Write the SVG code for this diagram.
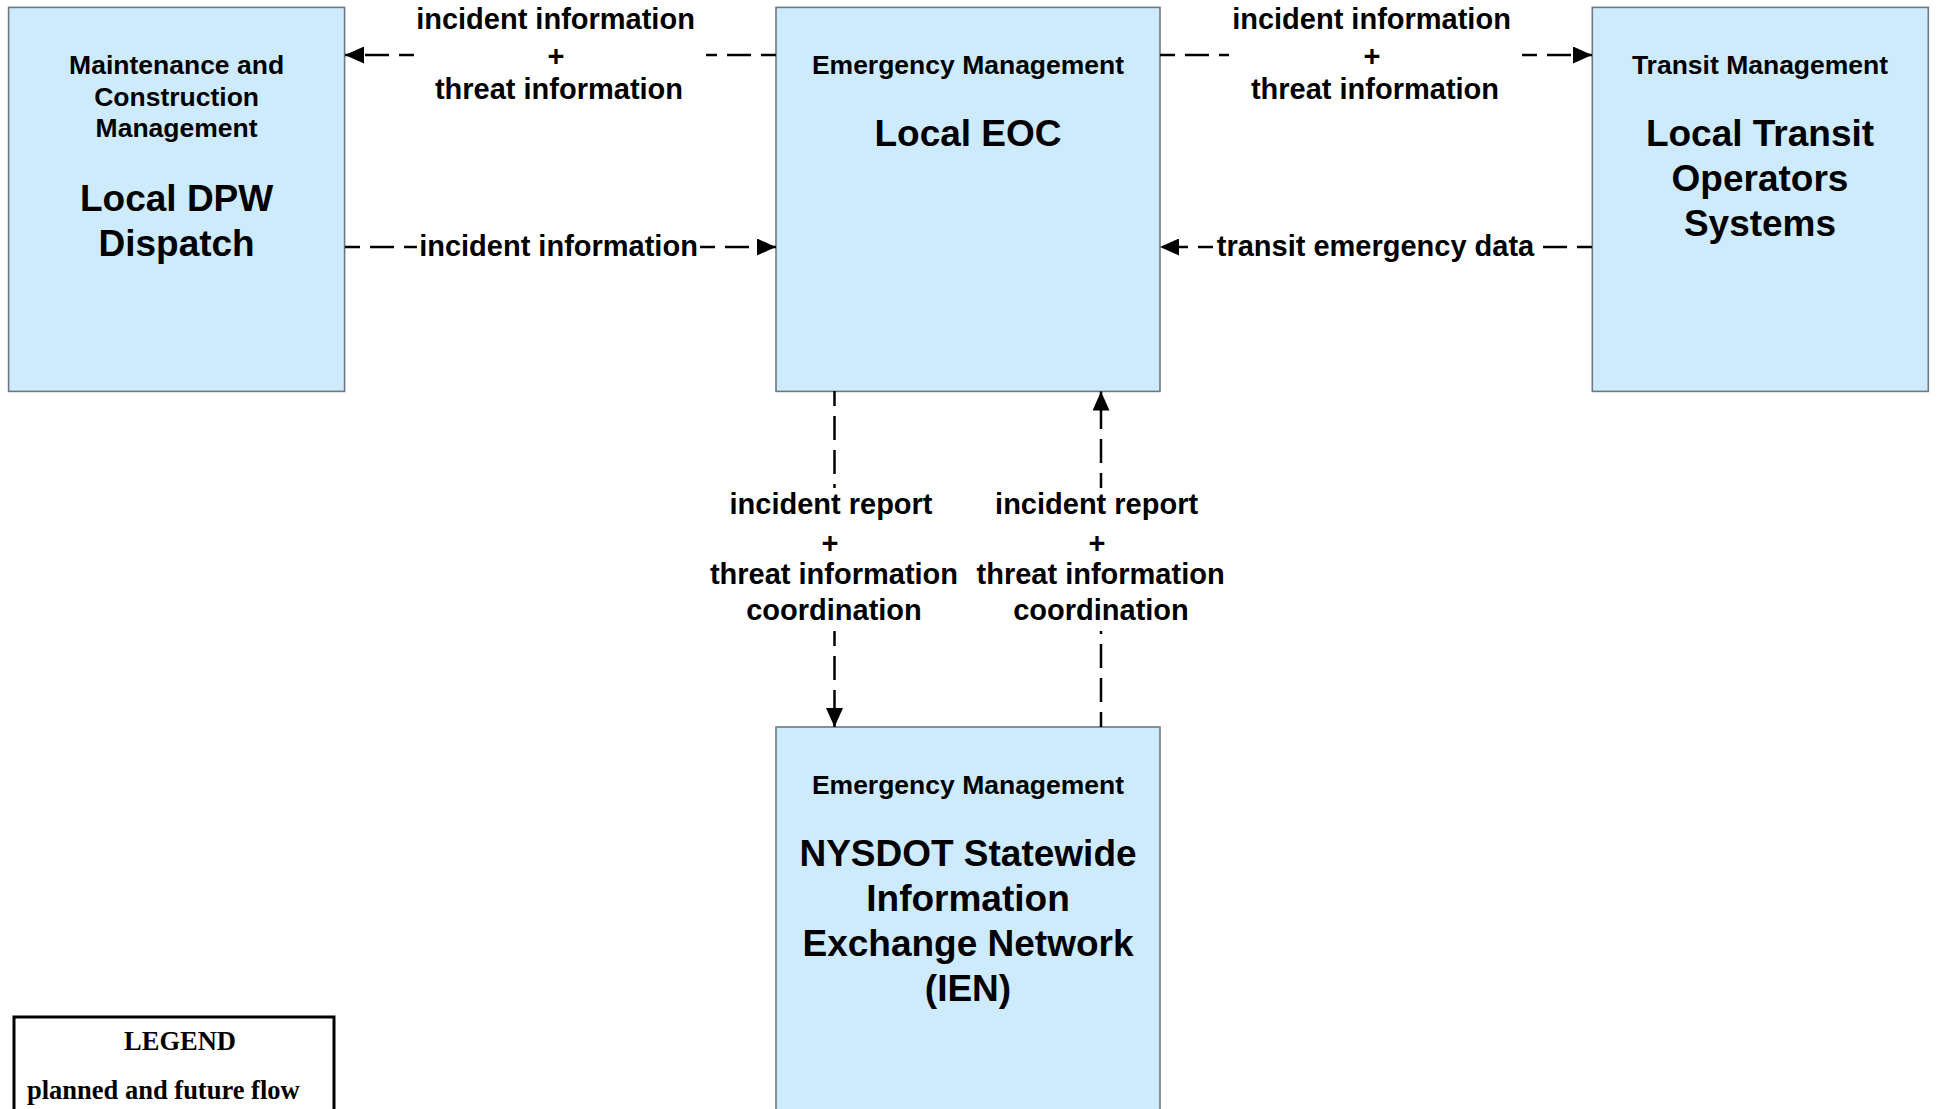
<svg xmlns="http://www.w3.org/2000/svg" width="1937" height="1109" viewBox="0 0 1937 1109">
<style>
.box{fill:#cdebfd;stroke:#6e7882;stroke-width:1.6}
.t{font-family:"Liberation Sans",Arial,sans-serif;font-weight:bold;fill:#000;text-anchor:middle}
.hdr{font-size:26.5px}
.ttl{font-size:37px}
.lbl{font-size:29px}
.flow{fill:none;stroke:#000;stroke-width:2.5;stroke-dasharray:24 10;stroke-dashoffset:9;marker-end:url(#arr)}
.leg{font-family:"Liberation Serif","Times New Roman",serif;font-weight:bold;font-size:26.5px;fill:#000}
</style>
<defs>
<marker id="arr" markerUnits="userSpaceOnUse" markerWidth="19" markerHeight="17" refX="19" refY="8.5" orient="auto" viewBox="0 0 19 17">
<path d="M0,0 L19,8.5 L0,17 z" fill="#000"/>
</marker>
</defs>
<rect width="1937" height="1109" fill="#fff"/>

<g id="node-dpw">
<rect class="box" x="8.6" y="7.4" width="336" height="384"/>
<text class="t hdr" x="176.6" y="74">Maintenance and</text>
<text class="t hdr" x="176.6" y="105.5">Construction</text>
<text class="t hdr" x="176.6" y="137">Management</text>
<text class="t ttl" x="176.6" y="211">Local DPW</text>
<text class="t ttl" x="176.6" y="256">Dispatch</text>
</g>

<g id="node-eoc">
<rect class="box" x="776" y="7.4" width="384" height="384"/>
<text class="t hdr" x="968" y="73.7">Emergency Management</text>
<text class="t ttl" x="968" y="146">Local EOC</text>
</g>

<g id="node-transit">
<rect class="box" x="1592.3" y="7.4" width="336" height="384"/>
<text class="t hdr" x="1760" y="73.7">Transit Management</text>
<text class="t ttl" x="1760" y="146">Local Transit</text>
<text class="t ttl" x="1760" y="191">Operators</text>
<text class="t ttl" x="1760" y="236">Systems</text>
</g>

<g id="node-ien">
<rect class="box" x="776" y="727" width="384" height="400"/>
<text class="t hdr" x="968" y="794">Emergency Management</text>
<text class="t ttl" x="968" y="866">NYSDOT Statewide</text>
<text class="t ttl" x="968" y="911">Information</text>
<text class="t ttl" x="968" y="956">Exchange Network</text>
<text class="t ttl" x="968" y="1001">(IEN)</text>
</g>

<g id="legend">
<rect x="14" y="1017" width="320" height="120" fill="#fff" stroke="#000" stroke-width="3"/>
<text class="leg" x="180" y="1050" text-anchor="middle">LEGEND</text>
<text class="leg" x="27" y="1099">planned and future flow</text>
</g>

<g id="connectors">
<path class="flow" d="M776,55 L706,55 M414,55 L345,55"/>
<text class="t lbl" x="555.5" y="28.5">incident information</text>
<text class="t lbl" x="556" y="66">+</text>
<text class="t lbl" x="559" y="98.5">threat information</text>

<path class="flow" d="M345,247 L417,247 M700,247 L776,247"/>
<text class="t lbl" x="558.5" y="256">incident information</text>

<path class="flow" d="M1160,55 L1229,55 M1522,55 L1592,55"/>
<text class="t lbl" x="1371.5" y="28.5">incident information</text>
<text class="t lbl" x="1372" y="66">+</text>
<text class="t lbl" x="1375" y="98.5">threat information</text>

<path class="flow" d="M1592,247 L1538,247 M1213,247 L1160,247"/>
<text class="t lbl" x="1375.5" y="256">transit emergency data</text>

<path class="flow" d="M834.5,391 L834.5,488 M834.5,631 L834.5,727"/>
<text class="t lbl" x="831" y="514">incident report</text>
<text class="t lbl" x="830" y="553">+</text>
<text class="t lbl" x="834" y="584">threat information</text>
<text class="t lbl" x="834" y="620">coordination</text>

<path class="flow" d="M1101,727 L1101,631 M1101,488 L1101,391.5"/>
<text class="t lbl" x="1096.6" y="514">incident report</text>
<text class="t lbl" x="1097" y="553">+</text>
<text class="t lbl" x="1100.6" y="584">threat information</text>
<text class="t lbl" x="1101" y="620">coordination</text>
</g>
</svg>
